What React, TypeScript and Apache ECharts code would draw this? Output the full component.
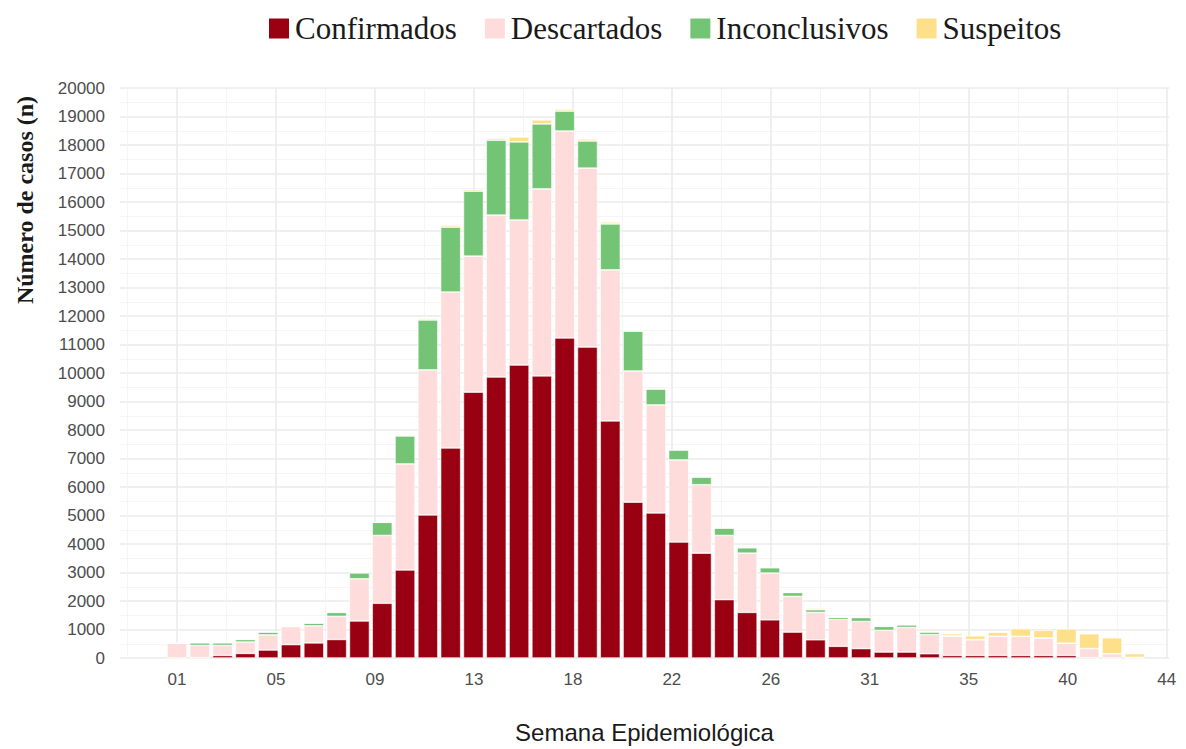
import * as echarts from "echarts";
import { useEffect, useRef } from "react";

const weeks = Array.from({ length: 43 }, (_, i) => i + 1);
const confirmados = [0, 10, 90, 160, 280, 470, 530, 650, 1300, 1920, 3090, 5020, 7370, 9330, 9860, 10280, 9900, 11230, 10910, 8320, 5470, 5090, 4070, 3680, 2050, 1600, 1340, 910, 640, 410, 330, 210, 210, 150, 90, 90, 90, 90, 90, 90, 10, 0, 0];
const descartados = [520, 430, 350, 400, 530, 630, 600, 810, 1480, 2380, 3720, 5090, 5470, 4770, 5680, 5090, 6560, 7260, 6280, 5300, 4600, 3790, 2880, 2400, 2250, 2080, 1640, 1250, 960, 940, 950, 760, 860, 670, 670, 550, 670, 670, 610, 430, 320, 150, 20];
const inconclusivos = [0, 95, 95, 90, 100, 10, 95, 140, 210, 460, 980, 1750, 2280, 2280, 2630, 2740, 2280, 700, 950, 1610, 1400, 560, 350, 270, 260, 190, 190, 140, 95, 80, 140, 140, 95, 95, 20, 0, 0, 0, 0, 0, 0, 0, 0];
const suspeitos = [0, 0, 0, 0, 0, 0, 0, 0, 0, 0, 30, 50, 70, 60, 70, 170, 140, 70, 70, 70, 0, 0, 0, 0, 0, 0, 0, 0, 45, 0, 0, 0, 0, 0, 70, 140, 140, 270, 270, 500, 520, 560, 130];
const tickLabels = ["01", "05", "09", "13", "18", "22", "26", "31", "35", "40", "44"];
const tickValues = tickLabels.map((_, i) => 1 + i * 4.34);
const minorValues = [-1.17, ...tickValues.map((v) => v + 2.17)];

// padded category axis: weeks -1..44, so bars line up with the value axes
const padCats = Array.from({ length: 46 }, (_, i) => String(i - 1));

const seriesDefs = [
  { name: "Confirmados", data: confirmados, color: "#990011" },
  { name: "Descartados", data: descartados, color: "#fddcdb" },
  { name: "Inconclusivos", data: inconclusivos, color: "#74c476" },
  { name: "Suspeitos", data: suspeitos, color: "#fee08b" },
];

export default function App() {
  const ref = useRef<HTMLDivElement | null>(null);

  useEffect(() => {
    if (!ref.current) return;
    const chart = echarts.init(ref.current, null, { renderer: "svg" });
    const gridColor = "#ebebeb";
    chart.setOption({
      animation: false,
      backgroundColor: "#ffffff",
      legend: {
        top: 0,
        left: 254,
        itemWidth: 22,
        itemHeight: 22,
        itemGap: 26,
        icon: "rect",
        textStyle: { fontFamily: "Liberation Serif", fontSize: 31, color: "#1a1a1a" },
        data: seriesDefs.map((s) => s.name),
      },
      grid: { left: 112, right: 9, top: 80, bottom: 91, outerBoundsMode: "none" },
      graphic: [
        {
          type: "text",
          x: 17,
          y: 192,
          rotation: Math.PI / 2,
          style: {
            text: "Número de casos (n)",
            font: "bold 24px 'Liberation Serif'",
            fill: "#1a1a1a",
            align: "center",
            verticalAlign: "middle",
          },
        },
      ],
      xAxis: [
        {
          type: "value",
          min: -1.5,
          max: 44.5,
          name: "Semana Epidemiológica",
          nameLocation: "middle",
          nameGap: 62,
          nameTextStyle: { fontFamily: "Liberation Sans", fontSize: 24, color: "#1a1a1a" },
          axisLine: { show: false },
          axisTick: { show: false, customValues: tickValues },
          axisLabel: {
            customValues: tickValues,
            margin: 13,
            fontFamily: "Liberation Sans",
            fontSize: 17,
            color: "#4d4d4d",
            formatter: (v: number) => tickLabels[Math.round((v - 1) / 4.34)] ?? "",
          },
          splitLine: { show: true, lineStyle: { color: gridColor, width: 1.6 } },
        },
        {
          type: "value",
          min: -1.5,
          max: 44.5,
          position: "bottom",
          axisLine: { show: false },
          axisTick: { show: false, customValues: minorValues },
          axisLabel: { show: false, customValues: minorValues },
          splitLine: { show: true, lineStyle: { color: "#f2f2f2", width: 0.8 } },
        },
        {
          type: "category",
          data: padCats,
          position: "bottom",
          axisLine: { show: false },
          axisTick: { show: false },
          axisLabel: { show: false },
          splitLine: { show: false },
        },
      ],
      yAxis: {
        type: "value",
        min: 0,
        max: 20000,
        interval: 1000,
        axisLine: { show: false },
        axisTick: { show: false },
        axisLabel: { margin: 15, fontFamily: "Liberation Sans", fontSize: 17, color: "#4d4d4d", formatter: (v: number) => String(v) },
        splitLine: { lineStyle: { color: gridColor, width: 1.6 } },
        minorTick: { show: false, splitNumber: 2 },
        minorSplitLine: { show: true, lineStyle: { color: "#f2f2f2", width: 0.8 } },
      },
      series: seriesDefs.map((s) => ({
        name: s.name,
        type: "bar",
        stack: "total",
        barWidth: 20,
        xAxisIndex: 2,
        itemStyle: { color: s.color, borderColor: "#ffffff", borderWidth: 0.6 },
        data: padCats.map((c) => {
          const i = weeks.indexOf(Number(c));
          return i < 0 ? null : s.data[i];
        }),
      })),
    });
    return () => chart.dispose();
  }, []);

  return <div ref={ref} style={{ width: 1170, height: 741 }} />;
}
